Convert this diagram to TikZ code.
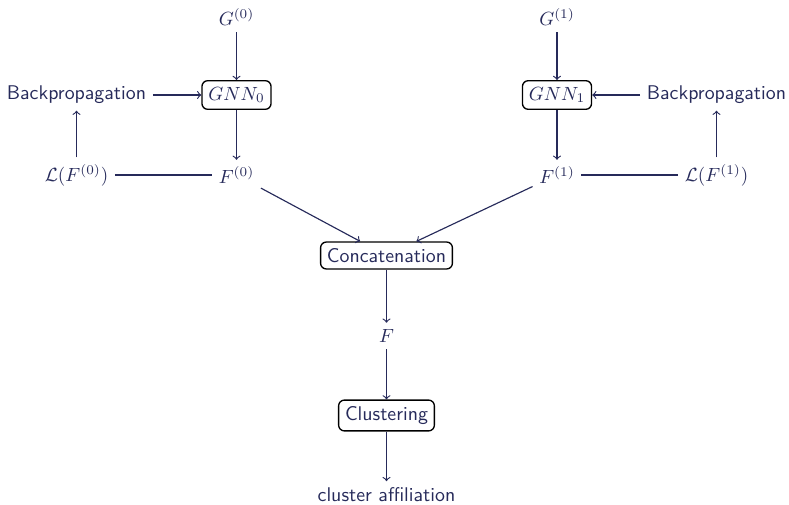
\documentclass[tikz,border=0pt]{standalone}
\usepackage{tikz}
\definecolor{navytext}{RGB}{38,42,90}
\newcommand{\mycolor}{navytext}
\newcommand{\myboxcolor}{black}

\begin{document}
\begin{tikzpicture}[x=0.01841cm,y=-0.01841cm,
  every node/.style={text=\mycolor,font=\fontsize{10.4}{12.5}\selectfont\sffamily},
  stage/.style={draw=\myboxcolor,line width=0.7pt,rounded corners=3pt},
  flow/.style={->,semithick,draw=\mycolor}]

 \useasboundingbox (0,0) rectangle (789,505);
   \node (g0) at (236.5,17) {$G^{(0)}$};
   \node[stage] (gnn0) at (236.5,95) {$GNN_0$};
   \node (f0) at (236.5,175) {$F^{(0)}$};
   \node (bp0) at (76.5,95) {Backpropagation};
   \node (loss0) at (76.5,175) {$\mathcal{L}(F^{(0)})$};

   \node (g1) at (557,17) {$G^{(1)}$};
   \node[stage] (gnn1) at (557,95) {$GNN_1$};
   \node (f1) at (557,175) {$F^{(1)}$};
   \node (bp1) at (716.5,95) {Backpropagation};
   \node (loss1) at (716.5,175) {$\mathcal{L}(F^{(1)})$};

   \node[stage] (concat) at (386.5,255.5) {Concatenation};
   \node (f) at (386.5,336) {$F$};
   \node[stage] (clust) at (386.5,415.5) {Clustering};
   \node (aff) at (386.5,495) {cluster affiliation};

   \draw[flow] (g0) -- (gnn0);
   \draw[flow] (bp0) -- (gnn0);
   \draw[flow] (gnn0) -- (f0);
   \draw[flow] (loss0) -- (bp0);
   \draw[semithick,\mycolor] (loss0) -- (f0);

   \draw[flow] (g1) -- (gnn1);
   \draw[flow] (bp1) -- (gnn1);
   \draw[flow] (gnn1) -- (f1);
   \draw[flow] (loss1) -- (bp1);
   \draw[semithick,\mycolor] (loss1) -- (f1);

   \draw[flow] (f0) -- (concat);
   \draw[flow] (f1) -- (concat);
   \draw[flow] (concat) -- (f);
   \draw[flow] (f) -- (clust);
   \draw[flow] (clust) -- (aff);

 \end{tikzpicture}
\end{document}
